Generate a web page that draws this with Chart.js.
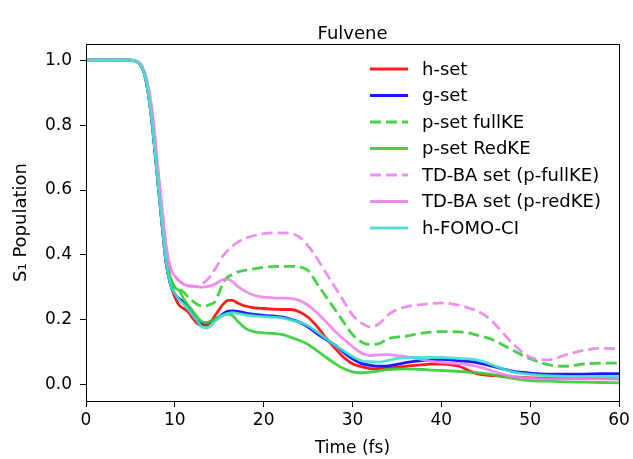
<!DOCTYPE html>
<html>
<head>
<meta charset="utf-8">
<script src="https://cdn.jsdelivr.net/npm/chart.js@4/dist/chart.umd.min.js"></script>
<style>
  html, body { margin: 0; padding: 0; background: #fff; }
  #wrap { width: 633px; height: 459px; }
</style>
</head>
<body>
<div id="wrap"><canvas id="pop" width="633" height="459"></canvas></div>
<script>
// time axis (fs), shared by every series
const times = [0, 5, 5.5, 6, 6.5, 7, 7.5, 8, 8.5, 9, 9.5,
  10, 10.5, 11, 11.5, 12, 12.5, 13, 13.5, 14, 14.5, 15, 15.5, 16, 16.5, 17,
  18, 19, 20, 21, 22, 23, 24, 25, 26, 27, 28, 29, 30,
  31, 32, 33, 34, 35, 36, 37, 38, 39, 40, 41, 42, 43, 44, 45, 46,
  48, 50, 52, 54, 56, 58, 60];

// S1 population
const hSet = [1, 1, 0.998, 0.99, 0.965, 0.90, 0.79, 0.65, 0.51, 0.38, 0.31,
  0.27, 0.245, 0.235, 0.225, 0.205, 0.19, 0.183, 0.183, 0.192, 0.212, 0.232, 0.25, 0.26, 0.26, 0.253,
  0.242, 0.237, 0.235, 0.233, 0.232, 0.232, 0.225, 0.208, 0.18, 0.145, 0.113, 0.085, 0.065,
  0.056, 0.05, 0.049, 0.051, 0.054, 0.057, 0.06, 0.062, 0.064, 0.064, 0.062, 0.057, 0.045, 0.034, 0.03, 0.028,
  0.024, 0.021, 0.02, 0.02, 0.02, 0.02, 0.02];

const gSet = [1, 1, 0.998, 0.99, 0.965, 0.90, 0.79, 0.65, 0.51, 0.38, 0.31,
  0.28, 0.265, 0.255, 0.24, 0.22, 0.2, 0.19, 0.19, 0.195, 0.2, 0.21, 0.22, 0.227, 0.228, 0.226,
  0.221, 0.217, 0.214, 0.212, 0.209, 0.202, 0.193, 0.178, 0.158, 0.14, 0.123, 0.1, 0.08,
  0.066, 0.06, 0.057, 0.058, 0.063, 0.068, 0.072, 0.075, 0.077, 0.078, 0.077, 0.074, 0.072, 0.068, 0.062, 0.055,
  0.042, 0.036, 0.033, 0.033, 0.033, 0.034, 0.034];

const pSetFull = [1, 1, 0.998, 0.99, 0.967, 0.905, 0.80, 0.665, 0.525, 0.40, 0.33,
  0.30, 0.295, 0.285, 0.27, 0.258, 0.248, 0.243, 0.243, 0.248, 0.255, 0.285, 0.318, 0.333, 0.34, 0.347,
  0.353, 0.358, 0.362, 0.364, 0.365, 0.365, 0.363, 0.352, 0.312, 0.272, 0.233, 0.193, 0.155,
  0.132, 0.124, 0.127, 0.142, 0.147, 0.15, 0.155, 0.16, 0.163, 0.164, 0.164, 0.163, 0.16, 0.153, 0.146, 0.136,
  0.107, 0.08, 0.062, 0.057, 0.064, 0.067, 0.067];

const pSetRed = [1, 1, 0.998, 0.99, 0.967, 0.905, 0.80, 0.665, 0.525, 0.40, 0.33,
  0.30, 0.29, 0.265, 0.245, 0.228, 0.21, 0.195, 0.19, 0.195, 0.203, 0.21, 0.215, 0.218, 0.213, 0.198,
  0.173, 0.163, 0.16, 0.158, 0.155, 0.147, 0.137, 0.124, 0.105, 0.085, 0.066, 0.05, 0.04,
  0.037, 0.039, 0.043, 0.047, 0.048, 0.049, 0.048, 0.047, 0.045, 0.044, 0.043, 0.041, 0.039, 0.037, 0.034, 0.03,
  0.02, 0.013, 0.011, 0.009, 0.008, 0.007, 0.006];

const tdbaFull = [1, 1, 0.998, 0.992, 0.97, 0.92, 0.83, 0.69, 0.56, 0.43, 0.36,
  0.335, 0.32, 0.31, 0.305, 0.303, 0.303, 0.31, 0.32, 0.335, 0.355, 0.378, 0.40, 0.415, 0.428, 0.438,
  0.452, 0.46, 0.466, 0.468, 0.468, 0.466, 0.456, 0.428, 0.39, 0.345, 0.302, 0.258, 0.215,
  0.19, 0.178, 0.188, 0.215, 0.232, 0.24, 0.245, 0.248, 0.251, 0.252, 0.25, 0.245, 0.237, 0.228, 0.212, 0.188,
  0.128, 0.085, 0.077, 0.092, 0.106, 0.112, 0.111];

const tdbaRed = [1, 1, 0.998, 0.992, 0.97, 0.92, 0.83, 0.69, 0.56, 0.43, 0.36,
  0.335, 0.32, 0.31, 0.305, 0.305, 0.302, 0.30, 0.302, 0.305, 0.31, 0.318, 0.325, 0.325, 0.318, 0.305,
  0.287, 0.275, 0.27, 0.268, 0.267, 0.266, 0.26, 0.245, 0.222, 0.195, 0.166, 0.141, 0.118,
  0.098, 0.09, 0.092, 0.093, 0.09, 0.087, 0.082, 0.077, 0.072, 0.069, 0.067, 0.065, 0.062, 0.057, 0.05, 0.04,
  0.025, 0.02, 0.018, 0.018, 0.018, 0.018, 0.017];

const fomo = [1, 1, 0.998, 0.99, 0.965, 0.90, 0.79, 0.65, 0.51, 0.38, 0.31,
  0.28, 0.262, 0.248, 0.233, 0.215, 0.198, 0.18, 0.175, 0.18, 0.195, 0.207, 0.215, 0.22, 0.222, 0.22,
  0.215, 0.212, 0.21, 0.208, 0.206, 0.2, 0.193, 0.182, 0.163, 0.143, 0.122, 0.105, 0.087,
  0.074, 0.071, 0.07, 0.075, 0.081, 0.083, 0.084, 0.084, 0.084, 0.084, 0.083, 0.081, 0.08, 0.077, 0.069, 0.058,
  0.04, 0.032, 0.028, 0.026, 0.025, 0.025, 0.024];

const yTicks = [0, 0.2, 0.4, 0.6, 0.8, 1.0];

const FONT = '"DejaVu Sans", sans-serif';
const TITLE = 'Fulvene';

function series(label, values, color, dashed) {
  return {
    label: label,
    data: times.map((t, i) => ({ x: t, y: values[i] })),
    borderColor: color,
    borderWidth: 2.8,
    borderDash: dashed ? [11, 5] : [],
    pointRadius: 0,
    fill: false,
    cubicInterpolationMode: 'monotone'
  };
}

const datasets = [
  series('h-set', hSet, 'rgba(255,0,0,0.9)', false),
  series('g-set', gSet, 'rgba(0,0,255,0.9)', false),
  series('p-set fullKE', pSetFull, 'rgba(50,205,50,0.9)', true),
  series('p-set RedKE', pSetRed, 'rgba(50,205,50,0.9)', false),
  series('TD-BA set (p-fullKE)', tdbaFull, 'rgba(238,130,238,0.9)', true),
  series('TD-BA set (p-redKE)', tdbaRed, 'rgba(238,130,238,0.9)', false),
  series('h-FOMO-CI', fomo, 'rgba(64,224,208,0.9)', false)
];
// later entries are drawn on top, like matplotlib
datasets.forEach((d, i) => { d.order = datasets.length - i; });

// box around the plot area + title centred over it
const framePlugin = {
  id: 'frame',
  afterDatasetsDraw(chart) {
    const a = chart.chartArea, ctx = chart.ctx;
    ctx.save();
    ctx.strokeStyle = '#000';
    ctx.lineWidth = 1;
    ctx.strokeRect(Math.round(a.left) + 0.5, Math.round(a.top) + 0.5,
      Math.round(a.right - a.left), Math.round(a.bottom - a.top));
    ctx.font = '18px ' + FONT;
    ctx.fillStyle = '#000';
    ctx.textAlign = 'center';
    ctx.textBaseline = 'middle';
    ctx.fillText(TITLE, (a.left + a.right) / 2, a.top - 10);
    ctx.restore();
  }
};

// legend in the upper right corner of the plot
const legendPlugin = {
  id: 'cornerLegend',
  afterDraw(chart) {
    const a = chart.chartArea, ctx = chart.ctx;
    const x0 = a.right - 249, y0 = a.top + 25;
    ctx.save();
    ctx.font = '18px ' + FONT;
    ctx.textBaseline = 'middle';
    ctx.fillStyle = '#000';
    chart.data.datasets.forEach((ds, i) => {
      const y = y0 + i * 26.5;
      ctx.strokeStyle = ds.borderColor;
      ctx.lineWidth = ds.borderWidth;
      ctx.setLineDash(ds.borderDash);
      ctx.beginPath();
      ctx.moveTo(x0, y);
      ctx.lineTo(x0 + 38, y);
      ctx.stroke();
      ctx.setLineDash([]);
      ctx.fillText(ds.label, x0 + 52, y + 1);
    });
    ctx.restore();
  }
};

new Chart(document.getElementById('pop'), {
  type: 'line',
  data: { datasets: datasets },
  options: {
    responsive: false,
    animation: false,
    devicePixelRatio: 1,
    layout: { padding: { top: 44, right: 14, bottom: 0, left: 0 } },
    plugins: {
      legend: { display: false },
      tooltip: { enabled: false },
      title: { display: false }
    },
    scales: {
      x: {
        type: 'linear',
        min: 0,
        max: 60,
        ticks: { stepSize: 10, color: '#000', font: { family: FONT, size: 17 }, padding: 3, maxRotation: 0 },
        grid: { display: true, drawOnChartArea: false, drawTicks: true, tickLength: 6, color: '#000' },
        border: { display: false },
        title: { display: true, text: 'Time (fs)', color: '#000', font: { family: FONT, size: 17 }, padding: { top: 2, bottom: 0 } },
        afterFit(s) { s.height = 58; }
      },
      y: {
        type: 'linear',
        min: -0.05,
        max: 1.05,
        afterBuildTicks(s) { s.ticks = yTicks.map(v => ({ value: v })); },
        ticks: { color: '#000', font: { family: FONT, size: 17 }, padding: 8, callback: v => v.toFixed(1) },
        grid: { display: true, drawOnChartArea: false, drawTicks: true, tickLength: 6, color: '#000' },
        border: { display: false },
        title: { display: true, text: 'S₁ Population', color: '#000', font: { family: FONT, size: 18 }, padding: { top: 11, bottom: 0 } },
        afterFit(s) { s.width = 86; }
      }
    }
  },
  plugins: [framePlugin, legendPlugin]
});
</script>
</body>
</html>
